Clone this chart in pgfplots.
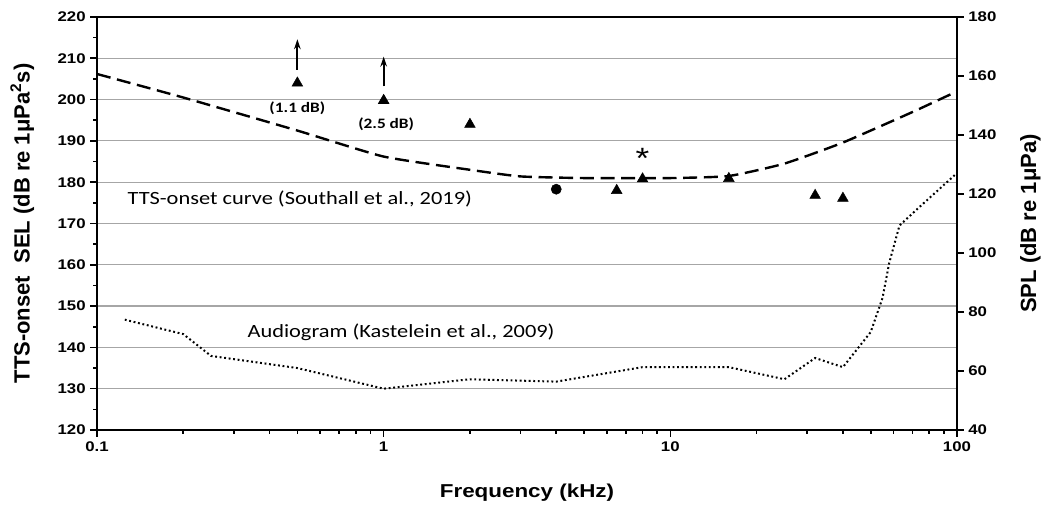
\documentclass[border=0pt]{standalone}
\usepackage{fontspec}
\setmainfont{Liberation Sans}[FakeStretch=1.2]
\newfontfamily\plainsans{Liberation Sans}
\newfontfamily\calib{Carlito}[FakeStretch=1.2]
\usepackage{pgfplots}
\pgfplotsset{compat=1.18}
\usetikzlibrary{arrows.meta}

\begin{document}
\begin{tikzpicture}
\path[use as bounding box] (0,0) rectangle (789pt,381.75pt);
\begin{axis}[
  at={(72.75pt,59.25pt)}, anchor=south west,
  scale only axis, width=645pt, height=309.75pt,
  xmode=log, xmin=0.1, xmax=100,
  ymin=120, ymax=220,
  xtick={0.1,1,10,100}, xticklabels={0.1,1,10,100},
  minor xtick={0.2,0.3,0.4,0.5,0.6,0.7,0.8,0.9,2,3,4,5,6,7,8,9,20,30,40,50,60,70,80,90},
  ytick={120,130,...,220},
  minor ytick={125,135,...,215},
  tick pos=left, tick align=outside,
  major tick length=5pt, minor tick length=3pt,
  tick style={black, line width=1.2pt},
  ymajorgrids, major grid style={black!35, line width=0.9pt},
  axis line style={line width=1.6pt},
  ticklabel style={font=\bfseries\fontsize{10.5}{12}\selectfont},
  /pgf/number format/assume math mode=true,
  xlabel={Frequency (kHz)},
  every axis x label/.style={at={(axis description cs:0.5,0)},anchor=center,yshift=-47pt,font=\bfseries\fontsize{14}{16}\selectfont},
  ylabel={TTS-onset\ \ SEL (dB re 1μPa\textsuperscript{2}s)},
  every axis y label/.style={at={(axis description cs:0,0.5)},xshift=-56pt,rotate=90,anchor=center,font=\plainsans\bfseries\fontsize{16.5}{17}\selectfont},
  clip=false,
]
% TTS-onset curve (Southall et al., 2019)
\addplot[black, line width=1.8pt, dash pattern=on 10.5pt off 5pt, smooth, tension=0.3] coordinates {
 (0.1,206.2) (0.2,200.5) (0.5,192.5) (1,186.2) (2,183) (3,181.4) (5,181) (10,181) (16,181.5) (25,184.5) (40,189.6) (70,197) (100,202)
};
% triangles
\addplot[only marks, mark=triangle*, mark size=4.6pt, black] coordinates {
 (0.5,204.0) (1,199.8) (2,194.0) (6.5,178.0) (8,180.8) (16,180.9) (32,176.8) (40,176.1)
};
% circle
\addplot[only marks, mark=*, mark size=3.8pt, black] coordinates {(4,178.3)};
\draw[-{Stealth[length=7.5pt,width=5pt]}, line width=1.5pt] (axis cs:0.5,207.2) -- (axis cs:0.5,214.6);
\draw[-{Stealth[length=7.5pt,width=5pt]}, line width=1.5pt] (axis cs:1,203.2) -- (axis cs:1,210.4);
\node[font=\calib\bfseries\fontsize{10.8}{13}\selectfont] at (axis cs:0.5,197.9) {(1.1 dB)};
\node[font=\calib\bfseries\fontsize{10.8}{13}\selectfont] at (axis cs:1.02,194.0) {(2.5 dB)};
\node[font=\fontsize{22}{24}\selectfont, anchor=base] at (axis cs:8,183.3) {*};
\node[font=\calib\fontsize{14}{15}\selectfont] at (axis cs:0.51,175.9) {TTS-onset curve (Southall et al., 2019)};
\node[font=\calib\fontsize{14}{15}\selectfont] at (axis cs:1.15,143.7) {Audiogram (Kastelein et al., 2009)};
\end{axis}
\begin{axis}[
  at={(72.75pt,59.25pt)}, anchor=south west,
  scale only axis, width=645pt, height=309.75pt,
  xmode=log, xmin=0.1, xmax=100,
  ymin=40, ymax=180, ytick={40,60,...,180},
  axis x line=none, axis y line*=right, ytick pos=right,
  tick align=outside, major tick length=5pt,
  tick style={black, line width=1.2pt},
  axis line style={line width=1.6pt},
  ticklabel style={font=\bfseries\fontsize{10.5}{12}\selectfont},
  /pgf/number format/assume math mode=true,
  ylabel={SPL (dB re 1μPa)},
  every axis y label/.style={at={(axis description cs:1,0.5)},xshift=55pt,rotate=90,anchor=center,font=\plainsans\bfseries\fontsize{16.5}{17}\selectfont},
]
% Audiogram (Kastelein et al., 2009)
\addplot[black, line width=1.5pt, dash pattern=on 1.4pt off 2pt] coordinates {
 (0.125,77.4) (0.2,72.5) (0.25,65.1) (0.5,61) (1,54) (2,57.2) (4,56.4) (8,61.3) (16,61.3) (25,57.2) (32,64.4) (40,61.3) (50,73.2) (55,84.8) (58,96.6) (63,109.3) (74,115.6) (100,127.1)
};
\end{axis}
\end{tikzpicture}
\end{document}
